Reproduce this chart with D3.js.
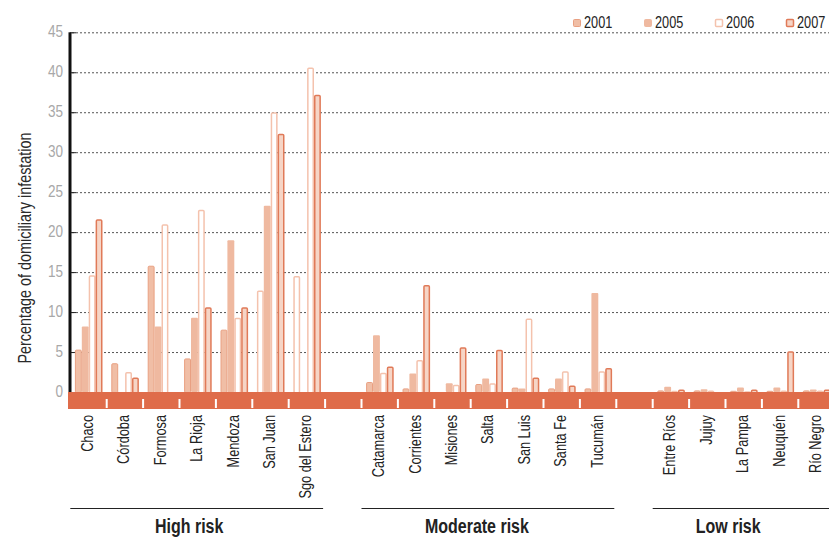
<!DOCTYPE html>
<html>
<head>
<meta charset="utf-8">
<script src="https://cdn.jsdelivr.net/npm/d3@7"></script>
<style>
  html, body { margin: 0; padding: 0; background: #fff; }
  svg { display: block; }
  text { font-family: "Liberation Sans", Arial, sans-serif; }
</style>
</head>
<body>
<svg id="chart" width="829" height="537"></svg>
<script>
// ---------------- DATA ----------------
const groups = ["High risk", "Moderate risk", "Low risk"];
const highRisk = ["Chaco", "Córdoba", "Formosa", "La Rioja", "Mendoza", "San Juan", "Sgo del Estero"];
const moderateRisk = ["Catamarca", "Corrientes", "Misiones", "Salta", "San Luis", "Santa Fe", "Tucumán"];
const lowRisk = ["Entre Ríos", "Jujuy", "La Pampa", "Neuquén", "Río Negro"];
const years = ["2001", "2005", "2006", "2007"];

// values in the order highRisk, moderateRisk, lowRisk (null = no bar)
const v2001 = [5.3, 3.6, 15.8, 4.2, 7.8, 12.7, 14.5,
               1.25, 0.45, null, 1.0, 0.55, 0.45, 0.45,
               0.2, 0.2, 0.15, 0.15, 0.2];
const v2005 = [8.2, null, 8.2, 9.3, 19.0, 23.3, null,
               7.1, 2.3, 1.1, 1.7, 0.45, 1.7, 12.4,
               0.65, 0.35, 0.55, 0.55, 0.3];
const v2006 = [14.6, 2.5, 21.0, 22.8, 9.3, 35.0, 40.6,
               2.4, 4.0, 0.9, 1.1, 9.2, 2.6, 2.6,
               0.15, 0.2, 0.1, 0.2, 0.2];
const v2007 = [21.6, 1.8, null, 10.6, 10.6, 32.3, 37.2,
               3.2, 13.4, 5.6, 5.3, 1.8, 0.8, 3.0,
               0.3, null, 0.3, 5.1, 0.3];
// 2001 values drawn as open bars in the original
const open2001 = ["San Juan", "Sgo del Estero"];
const yTicks = [0, 5, 10, 15, 20, 25, 30, 35, 40, 45];
const yLabel = "Percentage of domiciliary infestation";

// ---------------- LAYOUT ----------------
const svg = d3.select("#chart");
const W = 829;
const bandTop = 392, bandBottom = 409;
const NARROW = 0.82; // horizontal squeeze to mimic a condensed typeface

const groupMembers = [highRisk, moderateRisk, lowRisk];
const provinces = highRisk.concat(moderateRisk, lowRisk);
const slots = [];
groupMembers.forEach((g, i) => {
  g.forEach(p => slots.push(p));
  if (i < groupMembers.length - 1) slots.push("__gap" + i);
});

const slotW = 36.4;
const x0 = d3.scaleBand().domain(slots).range([70.3, 70.3 + slotW * slots.length]).padding(0);
const x1 = d3.scaleBand().domain(years).range([4.6, 32.2]).padding(0);
const y = d3.scaleLinear().domain([0, 45]).range([bandTop, 32.3]);

const seriesVals = { "2001": v2001, "2005": v2005, "2006": v2006, "2007": v2007 };
const styles = {
  "2001": { fill: "#f0bea6", stroke: "#e9a082", sw: 1 },
  "2005": { fill: "#efb9a0", stroke: "none", sw: 0 },
  "2006": { fill: "#ffffff", stroke: "#f4c2ad", sw: 1.5 },
  "2007": { fill: "#f6d5c6", stroke: "#e07a58", sw: 1.5 }
};
const openStyle = { fill: "#ffffff", stroke: "#f4c2ad", sw: 1.5 };

// narrow text helper
function ntext(parent, x, y, rot, txt, opts) {
  const g = parent.append("g")
    .attr("transform", `translate(${x},${y})` + (rot ? ` rotate(${rot})` : "") + ` scale(${opts.sx || NARROW},1)`);
  const t = g.append("text")
    .attr("text-anchor", opts.anchor || "start")
    .attr("font-size", opts.size)
    .attr("fill", opts.fill || "#222")
    .text(txt);
  if (opts.dy) t.attr("dy", opts.dy);
  if (opts.weight) t.attr("font-weight", opts.weight);
  return t;
}

// gridlines
const grid = svg.append("g");
yTicks.filter(t => t > 0).forEach(t => {
  grid.append("line")
    .attr("x1", 72).attr("x2", W)
    .attr("y1", y(t) + 0.5).attr("y2", y(t) + 0.5)
    .attr("stroke", "#555").attr("stroke-width", 1)
    .attr("stroke-dasharray", "2,2");
  grid.append("line")
    .attr("x1", 70).attr("x2", 76)
    .attr("y1", y(t) + 0.5).attr("y2", y(t) + 0.5)
    .attr("stroke", "#222").attr("stroke-width", 1);
});

// y axis tick labels
const yl = svg.append("g");
yTicks.forEach(d => ntext(yl, 63, y(d) - 1, 0, d, { anchor: "end", size: 16.5, fill: "#a8a8a8", dy: "0.36em" }));

// y axis label
ntext(svg, 31, 248, -90, yLabel, { anchor: "middle", size: 18, sx: 0.8, fill: "#2a2a2a" });

// bars
const barData = [];
provinces.forEach((p, i) => {
  years.forEach(yr => {
    const v = seriesVals[yr][i];
    if (v !== null && v !== undefined) barData.push({ p, yr, v });
  });
});
svg.append("g").selectAll("rect").data(barData).join("rect")
  .each(function (d) {
    const st = (d.yr === "2001" && open2001.includes(d.p)) ? openStyle : styles[d.yr];
    const inset = st.sw / 2;
    d3.select(this)
      .attr("x", x0(d.p) + x1(d.yr) + inset)
      .attr("width", x1.bandwidth() - st.sw)
      .attr("y", y(d.v) + inset)
      .attr("height", Math.max(0, bandTop - y(d.v)))
      .attr("rx", 1)
      .attr("fill", st.fill)
      .attr("stroke", st.stroke)
      .attr("stroke-width", st.sw);
  });

// y axis line
svg.append("rect")
  .attr("x", 68.5).attr("y", y(45)).attr("width", 3).attr("height", bandTop - y(45))
  .attr("fill", "#111");

// bottom band
svg.append("rect")
  .attr("x", 68).attr("y", bandTop).attr("width", W - 68).attr("height", bandBottom - bandTop)
  .attr("fill", "#df6c4a");

// white tick marks at slot boundaries
svg.append("g").selectAll("rect").data(slots.slice(1)).join("rect")
  .attr("x", d => x0(d) - 1).attr("y", 399).attr("width", 2).attr("height", 9)
  .attr("fill", "#fff");

// province labels
const pl = svg.append("g");
provinces.forEach(p => ntext(pl, x0(p) + x0.bandwidth() / 2 - 1.5, 415, -90, p,
  { anchor: "end", size: 17, sx: 0.75, fill: "#222", dy: "0.35em" }));

// group lines and labels
const labelShift = [-8.5, -12, -15.5];
groupMembers.forEach((g, i) => {
  const xs = x0(g[0]);
  const xe = x0(g[g.length - 1]) + x0.bandwidth() - 2;
  svg.append("line")
    .attr("x1", xs).attr("x2", Math.min(xe, W))
    .attr("y1", 508.5).attr("y2", 508.5)
    .attr("stroke", "#222").attr("stroke-width", 1.2);
  ntext(svg, (x0(g[0]) + x0(g[g.length - 1]) + x0.bandwidth()) / 2 + labelShift[i], 533, 0, groups[i],
    { anchor: "middle", size: 19.5, weight: "bold", fill: "#222" });
});

// legend
const legend = svg.append("g").attr("transform", "translate(573,0)");
years.forEach((yr, i) => {
  const st = styles[yr];
  const gx = i * 71;
  legend.append("rect")
    .attr("x", gx + 0.5).attr("y", 19.5).attr("width", 7).attr("height", 7)
    .attr("rx", 1)
    .attr("fill", st.fill)
    .attr("stroke", st.stroke === "none" ? st.fill : st.stroke)
    .attr("stroke-width", st.sw || 1);
  ntext(legend, gx + 11, 28, 0, yr, { size: 16.5, sx: 0.77, fill: "#222" });
});
</script>
</body>
</html>
